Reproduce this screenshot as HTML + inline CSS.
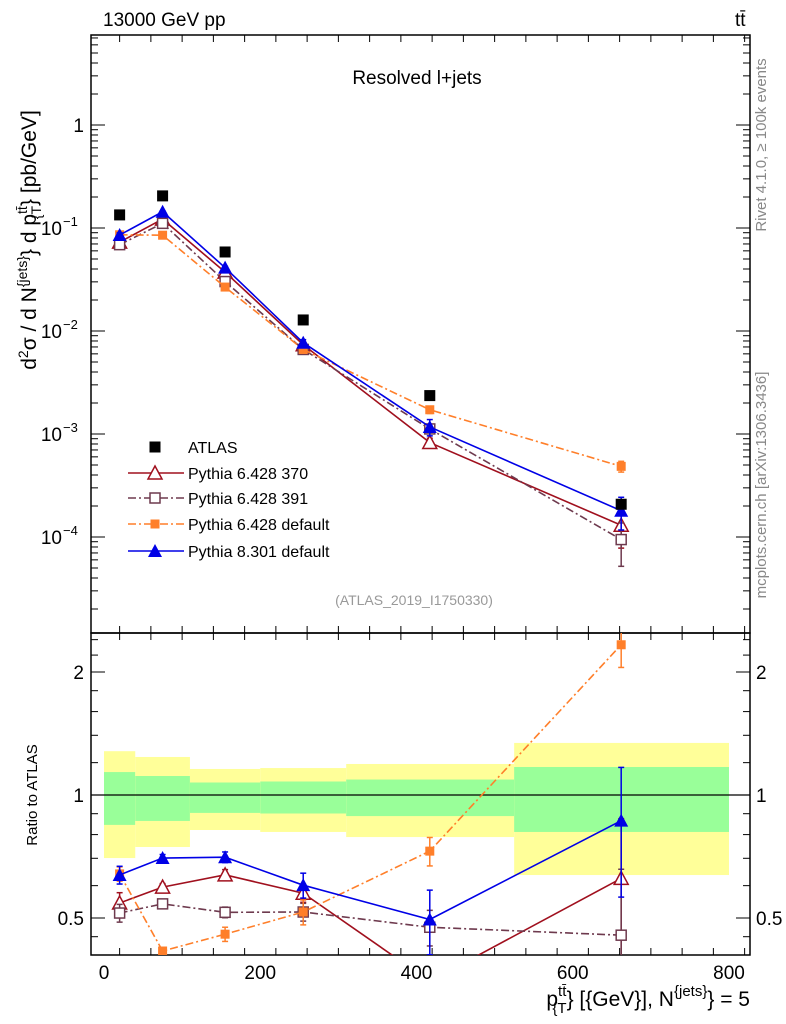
<!DOCTYPE html>
<html><head><meta charset="utf-8"><style>
body{margin:0;background:#fff;}
svg{display:block;font-family:"Liberation Sans",sans-serif;}
</style></head><body>
<svg id="c" width="786" height="1024" viewBox="0 0 786 1024" xmlns="http://www.w3.org/2000/svg"></svg>
<script>
const xCenters=[20,75,155,255,417,662];
const binEdges=[0,40,110,200,310,525,800];
const atlas=[0.134,0.205,0.0585,0.0128,0.00236,0.000208];
const py370=[0.0729,0.122,0.0373,0.00736,0.000826,0.00013];
const py391=[0.0689,0.111,0.0302,0.00662,0.00112,0.0000944];
const py6def=[0.0859,0.0851,0.0267,0.00662,0.00172,0.000485];
const py8def=[0.0854,0.1437,0.0412,0.0077,0.00117,0.00018];
const relErr370=[0.06,0.02,0.03,0.05,0.1,0.4];
const relErr391=[0.05,0.02,0.03,0.05,0.1,0.45];
const relErr6def=[0.04,0.02,0.04,0.07,0.08,0.12];
const relErr8def=[0.05,0.02,0.03,0.07,0.18,0.35];
const bandInnerHi=[1.138,1.113,1.073,1.079,1.091,1.171];
const bandInnerLo=[0.845,0.864,0.904,0.901,0.888,0.812];
const bandOuterHi=[1.28,1.239,1.158,1.164,1.191,1.341];
const bandOuterLo=[0.701,0.746,0.821,0.812,0.789,0.637];
const xTicks=[0,200,400,600,800];
const ratioTicks=[2,1,0.5];

const NS="http://www.w3.org/2000/svg";
const svg=document.getElementById('c');
const L=91,R=750,T=35,M=633,B=955;
const X=v=>104+v*(729-104)/800;
const Y=v=>125-103*Math.log10(v);
const YR=r=>795-123*Math.log2(r);
function el(t,a,p){const e=document.createElementNS(NS,t);for(const k in a)e.setAttribute(k,a[k]);(p||svg).appendChild(e);return e;}
function txt(s,a,p){const e=el('text',a,p);e.textContent=s;return e;}

const defs=el('defs',{});
const c1=el('clipPath',{id:'cm'},defs);el('rect',{x:L,y:T,width:R-L,height:M-T},c1);
const c2=el('clipPath',{id:'cr'},defs);el('rect',{x:L,y:M,width:R-L,height:B-M},c2);

const gb=el('g',{'clip-path':'url(#cr)'});


for(let i=0;i<xCenters.length;i++){
  const x0=X(binEdges[i]),x1=X(binEdges[i+1]);
  const y=el('rect',{x:x0,y:YR(bandOuterHi[i]),width:x1-x0,height:YR(bandOuterLo[i])-YR(bandOuterHi[i]),fill:'#ffff99'},gb);
  
  
  const g=el('rect',{x:x0,y:YR(bandInnerHi[i]),width:x1-x0,height:YR(bandInnerLo[i])-YR(bandInnerHi[i]),fill:'#99ff99'},gb);
  
  
}
el('line',{x1:L,x2:R,y1:YR(1),y2:YR(1),stroke:'#000','stroke-width':1.2});

const f1=el('rect',{x:L,y:T,width:R-L,height:M-T,fill:'none',stroke:'#000','stroke-width':1.5});

const f2=el('rect',{x:L,y:M,width:R-L,height:B-M,fill:'none',stroke:'#000','stroke-width':1.5});


for(let d=-5;d<=0;d++){for(let m=1;m<10;m++){const v=m*Math.pow(10,d);const y=Y(v);if(y<T||y>M)continue;const len=m==1?14:7;
 el('line',{x1:L,x2:L+len,y1:y,y2:y,stroke:'#000'});el('line',{x1:R,x2:R-len,y1:y,y2:y,stroke:'#000'});}}
const mlab=[[1,'1',''],[0.1,'10','−1'],[0.01,'10','−2'],[0.001,'10','−3'],[0.0001,'10','−4']];
mlab.forEach(([v,b,e])=>{const t=txt(b,{x:e?62:84,y:Y(v)+7,'font-size':19,'text-anchor':'end'});
 
 if(e){const t2=txt(e,{x:63,y:Y(v)-2,'font-size':13});}});
[0.45,0.5,0.6,0.7,0.8,0.9,1,1.2,1.4,1.6,1.8,2,2.2,2.4].forEach(r=>{const y=YR(r);const len=(r==0.5||r==1||r==2)?14:7;
 el('line',{x1:L,x2:L+len,y1:y,y2:y,stroke:'#000'});el('line',{x1:R,x2:R-len,y1:y,y2:y,stroke:'#000'});});
ratioTicks.forEach(r=>{const a=txt(String(r),{x:84,y:YR(r)+7,'font-size':19,'text-anchor':'end'});
 const b=txt(String(r),{x:756,y:YR(r)+7,'font-size':19});});
for(let v=-20;v<=820;v+=40){const x=X(v);if(x<L||x>R)continue;const len=v%200==0?14:7;
 [T,M].forEach(y0=>el('line',{x1:x,x2:x,y1:y0,y2:y0+len,stroke:'#000'}));
 [M,B].forEach(y0=>el('line',{x1:x,x2:x,y1:y0,y2:y0-len,stroke:'#000'}));}
xTicks.forEach(v=>{const t=txt(String(v),{x:X(v),y:979,'font-size':19,'text-anchor':'middle'});});

function marker(type,x,y,col,p){
 if(type=='sq')el('rect',{x:x-5.5,y:y-5.5,width:11,height:11,fill:col},p);
 else if(type=='osq')el('rect',{x:x-5,y:y-5,width:10,height:10,fill:'#fff',stroke:col,'stroke-width':1.5},p);
 else if(type=='fsq')el('rect',{x:x-4.5,y:y-4.5,width:9,height:9,fill:col},p);
 else if(type=='otri')el('polygon',{points:`${x},${y-7} ${x-7},${y+6} ${x+7},${y+6}`,fill:'#fff',stroke:col,'stroke-width':1.5},p);
 else if(type=='ftri')el('polygon',{points:`${x},${y-7} ${x-7},${y+6} ${x+7},${y+6}`,fill:col},p);
}
function ebar(x,y1,y2,col,p){el('line',{x1:x,x2:x,y1:y1,y2:y2,stroke:col,'stroke-width':1.5},p);
 el('line',{x1:x-3,x2:x+3,y1:y1,y2:y1,stroke:col,'stroke-width':1.5},p);el('line',{x1:x-3,x2:x+3,y1:y2,y2:y2,stroke:col,'stroke-width':1.5},p);}
const series=[
 {name:'py370',vals:py370,err:relErr370,col:'#a0101e',dash:'',m:'otri',label:'Pythia 6.428 370'},
 {name:'py391',vals:py391,err:relErr391,col:'#6e3a4e',dash:'8,3,2,3',m:'osq',label:'Pythia 6.428 391'},
 {name:'py6def',vals:py6def,err:relErr6def,col:'#ff7f2a',dash:'8,3,2,3',m:'fsq',label:'Pythia 6.428 default'},
 {name:'py8def',vals:py8def,err:relErr8def,col:'#0000e6',dash:'',m:'ftri',label:'Pythia 8.301 default'}];
const gm=el('g',{'clip-path':'url(#cm)'});
const gr=el('g',{'clip-path':'url(#cr)'});
series.forEach(s=>{
 const g=el('g',{},gm);
 el('polyline',{points:xCenters.map((x,i)=>X(x)+','+Y(s.vals[i])).join(' '),fill:'none',stroke:s.col,'stroke-width':1.6,'stroke-dasharray':s.dash},g);
 xCenters.forEach((x,i)=>{ebar(X(x),Y(s.vals[i]*(1+s.err[i])),Y(s.vals[i]*Math.max(0.05,1-s.err[i])),s.col,g);marker(s.m,X(x),Y(s.vals[i]),s.col,g);});
 const h=el('g',{},gr);
 el('polyline',{points:xCenters.map((x,i)=>X(x)+','+YR(s.vals[i]/atlas[i])).join(' '),fill:'none',stroke:s.col,'stroke-width':1.6,'stroke-dasharray':s.dash},h);
 xCenters.forEach((x,i)=>{const r=s.vals[i]/atlas[i];ebar(X(x),YR(r*(1+s.err[i])),YR(r*Math.max(0.05,1-s.err[i])),s.col,h);marker(s.m,X(x),YR(r),s.col,h);});
});
const ga=el('g',{});
xCenters.forEach((x,i)=>marker('sq',X(x),Y(atlas[i]),'#000',ga));

const lg=el('g',{});
const ly=[447,473,498,524,551];
marker('sq',155,ly[0],'#000',lg);
txt('ATLAS',{x:188,y:ly[0]+6,'font-size':16},lg);
series.forEach((s,i)=>{const y=ly[i+1];
 el('line',{x1:128,x2:184,y1:y,y2:y,stroke:s.col,'stroke-width':1.6,'stroke-dasharray':s.dash},lg);
 marker(s.m,155,y,s.col,lg);
 txt(s.label,{x:188,y:y+6,'font-size':16},lg);});

function lab(s,a,name){const t=txt(s,a);return t;}
lab('13000 GeV pp',{x:103,y:26,'font-size':19},'energy-label');
lab('tt̄',{x:735,y:26,'font-size':19},'process-label');
lab('Resolved l+jets',{x:417,y:84,'font-size':19,'text-anchor':'middle'},'plot-title');
lab('(ATLAS_2019_I1750330)',{x:414,y:605,'font-size':14,fill:'#999','text-anchor':'middle'},'analysis-id');
lab('Rivet 4.1.0, ≥ 100k events',{x:0,y:0,'font-size':15,fill:'#888','text-anchor':'middle',transform:'translate(766,145) rotate(-90)'},'rivet-label');
lab('mcplots.cern.ch [arXiv:1306.3436]',{x:0,y:0,'font-size':15,fill:'#888','text-anchor':'middle',transform:'translate(766,485) rotate(-90)'},'mcplots-label');
const yt=lab('',{x:0,y:0,'font-size':21,'text-anchor':'middle',transform:'translate(36,240) rotate(-90)'},'y-axis-title');
yt.innerHTML='d<tspan dy="-8" font-size="14">2</tspan><tspan dy="8">σ  /  d N</tspan><tspan dy="-9" font-size="14">{jets}</tspan><tspan dy="9">} d p</tspan><tspan dy="-9" font-size="14">tt̄</tspan><tspan dy="14" dx="-13" font-size="14">{T</tspan><tspan dy="-5">} [pb/GeV]</tspan>';
lab('Ratio to ATLAS',{x:0,y:0,'font-size':15,'text-anchor':'middle',transform:'translate(37,795) rotate(-90)'},'ratio-axis-title');
const xt=lab('',{x:750,y:1006,'font-size':21,'text-anchor':'end'},'x-axis-title');
xt.innerHTML='p<tspan dy="-10" font-size="15">tt̄</tspan><tspan dy="17" dx="-14" font-size="15">{T</tspan><tspan dy="-7">} [{GeV}], N</tspan><tspan dy="-10" font-size="15">{jets}</tspan><tspan dy="10">} = 5</tspan>';
</script>
</body></html>
